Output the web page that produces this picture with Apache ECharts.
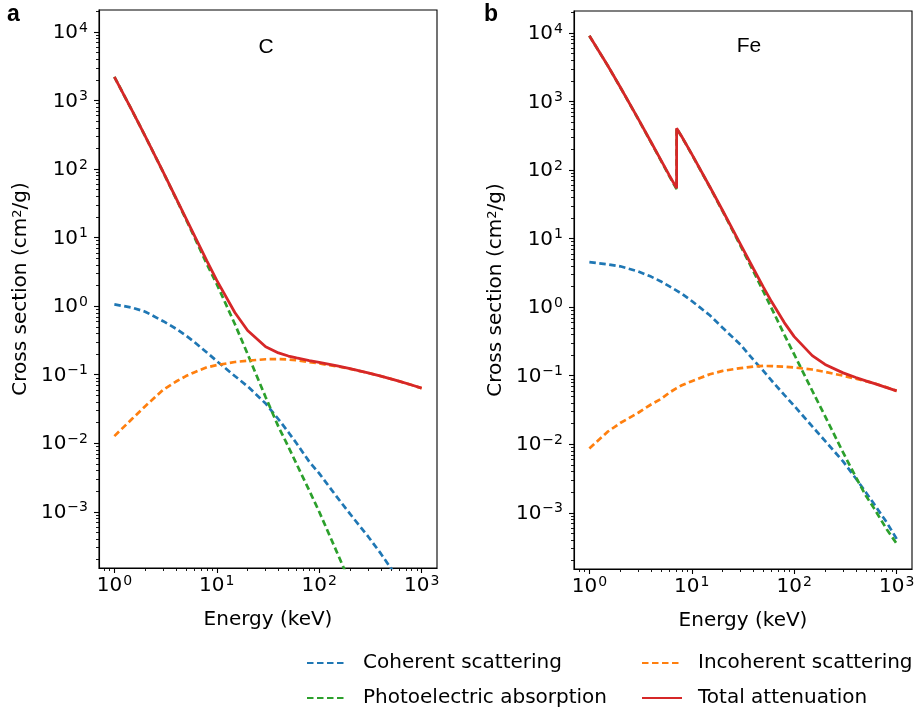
<!DOCTYPE html>
<html>
<head>
<meta charset="utf-8">
<script src="https://cdn.jsdelivr.net/npm/echarts@6/dist/echarts.min.js"></script>
<style>
  html, body { margin: 0; padding: 0; background: #fff; }
  #main { width: 919px; height: 710px; }
</style>
</head>
<body>
<div id="main"></div>
<script>
// energies in keV
var energyC = [1, 1.5, 2, 3, 4, 5, 6, 8, 10, 15, 20, 30, 40, 50, 60, 80, 100, 150, 200, 300, 400, 500, 600, 800, 1000];
// Fe has the K edge at 7.112 keV (two points)
var energyFe = [1, 1.5, 2, 3, 4, 5, 6, 7.112, 7.112, 8, 10, 15, 20, 30, 40, 50, 60, 80, 100, 150, 200, 300, 400, 500, 600, 800, 1000];

// carbon, cm2/g
var cohC = [1.06, 0.95, 0.83, 0.603, 0.468, 0.372, 0.302, 0.211, 0.158, 0.0955, 0.0676, 0.038, 0.0224, 0.0145, 0.0100, 0.00537, 0.00363, 0.00162, 0.00093, 0.000437, 0.000245, 0.000151, 0.000105, 0.0000589, 0.000038];
var incohC = [0.0127, 0.0229, 0.0347, 0.0603, 0.0794, 0.0955, 0.108, 0.128, 0.138, 0.153, 0.160, 0.168, 0.169, 0.167, 0.162, 0.153, 0.1456, 0.132, 0.1216, 0.106, 0.0951, 0.0869, 0.0804, 0.0706, 0.0635];
var photoC = [2210, 699, 301.7, 89.6, 37.1, 18.5, 10.4, 4.1, 2.09, 0.55, 0.20, 0.047, 0.0174, 0.0089, 0.0050, 0.00204, 0.00100, 0.000251, 0.0000933, 0.0000251, 0.00001, 0.000005, 0.0000032, 0.0000014, 0.00000079];
var totalC = [2211, 700.2, 302.6, 90.33, 37.78, 19.12, 10.95, 4.576, 2.373, 0.8071, 0.442, 0.2562, 0.2076, 0.1871, 0.1753, 0.161, 0.1514, 0.1347, 0.1229, 0.1066, 0.09546, 0.08715, 0.08058, 0.07076, 0.06361];

// iron, cm2/g
var cohFe = [4.54, 4.22, 3.94, 3.31, 2.79, 2.37, 2.02, 1.74, 1.74, 1.57, 1.23, 0.76, 0.50, 0.282, 0.17, 0.1175, 0.0851, 0.0525, 0.0363, 0.0182, 0.0112, 0.00562, 0.00316, 0.002, 0.00135, 0.000724, 0.000417];
var incohFe = [0.0087, 0.0151, 0.0204, 0.0288, 0.038, 0.0457, 0.0562, 0.066, 0.066, 0.0724, 0.0832, 0.105, 0.1175, 0.129, 0.136, 0.1387, 0.138, 0.1355, 0.1318, 0.123, 0.1135, 0.100, 0.0902, 0.0832, 0.0776, 0.0676, 0.06];
var photoFe = [9080, 3395, 1622, 554, 253.9, 137.1, 82.8, 52.6, 405.8, 303.9, 169.3, 56.3, 25.08, 7.78, 3.32, 1.69, 0.97, 0.398, 0.204, 0.0603, 0.0257, 0.00759, 0.00331, 0.00178, 0.00117, 0.000575, 0.000355];
var totalFe = [9085, 3399, 1626, 557.6, 256.7, 139.5, 84.84, 54.37, 407.6, 305.6, 170.6, 57.08, 25.68, 8.176, 3.629, 1.958, 1.205, 0.5952, 0.3717, 0.1964, 0.146, 0.1099, 0.094, 0.08414, 0.07704, 0.06699, 0.05995];

// tick decades (log10)
var xDecades = [0, 1, 2, 3];
var yDecades = [-3, -2, -1, 0, 1, 2, 3, 4];

var names = ['Coherent scattering', 'Photoelectric absorption', 'Incoherent scattering', 'Total attenuation'];
var colors = ['#1f77b4', '#2ca02c', '#ff7f0e', '#d62728'];

var FONT = 'DejaVu Sans';
var xMin = -0.15, xMax = 3.15;
var yMin = -3.82, yMax = 4.32;

function toLog(energy, values) {
    var out = [];
    for (var i = 0; i < energy.length; i++) {
        out.push([Math.log10(energy[i]), Math.log10(values[i])]);
    }
    return out;
}

function minorTicks(lo, hi) {
    var t = [];
    for (var d = Math.floor(lo); d <= Math.ceil(hi); d++) {
        for (var k = 2; k <= 9; k++) {
            var v = d + Math.log10(k);
            if (v > lo && v < hi) t.push(v);
        }
    }
    return t;
}

function powLabel(v) {
    var s = v < 0 ? '\u2212' + (-v) : '' + v;
    return '{b|10}{s|' + s + '}';
}

var labelRich = {
    b: { fontFamily: FONT, fontSize: 20, color: '#000', lineHeight: 22, verticalAlign: 'bottom', padding: [3, 0, 0, 0] },
    s: { fontFamily: FONT, fontSize: 14, color: '#000', lineHeight: 15, verticalAlign: 'top', padding: [0, 0, 0, 1] }
};

var grids = [
    { left: 99, top: 10, width: 338, height: 558 },
    { left: 574, top: 11, width: 338, height: 558 }
];

var xAxes = [], yAxes = [];
grids.forEach(function (g, i) {
    // major ticks + labels
    xAxes.push({
        type: 'value', gridIndex: i, position: 'bottom', min: xMin, max: xMax,
        name: 'Energy (keV)', nameLocation: 'middle', nameGap: 42,
        nameTextStyle: { fontFamily: FONT, fontSize: 20, color: '#000' },
        axisLine: { show: true, onZero: false, lineStyle: { color: '#000', width: 1.1 } },
        axisTick: { show: true, length: 5, customValues: xDecades, lineStyle: { color: '#000', width: 1.1 } },
        axisLabel: { customValues: xDecades, margin: 6, formatter: powLabel, rich: labelRich },
        splitLine: { show: false }
    });
    // minor ticks
    xAxes.push({
        type: 'value', gridIndex: i, position: 'bottom', min: xMin, max: xMax,
        axisLine: { show: false, onZero: false },
        axisTick: { show: true, length: 3, customValues: minorTicks(xMin, xMax), lineStyle: { color: '#000', width: 0.9 } },
        axisLabel: { show: false },
        splitLine: { show: false }
    });
    yAxes.push({
        type: 'value', gridIndex: i, position: 'left', min: yMin, max: yMax,
        name: 'Cross section (cm{sup|2}/g)', nameLocation: 'middle', nameGap: 68,
        nameTextStyle: {
            fontFamily: FONT, fontSize: 20, color: '#000',
            rich: { sup: { fontFamily: FONT, fontSize: 13, color: '#000', verticalAlign: 'top', lineHeight: 13 } }
        },
        axisLine: { show: true, onZero: false, lineStyle: { color: '#000', width: 1.1 } },
        axisTick: { show: true, length: 5, customValues: yDecades, lineStyle: { color: '#000', width: 1.1 } },
        axisLabel: { customValues: yDecades, margin: 11, formatter: powLabel, rich: labelRich },
        splitLine: { show: false }
    });
    yAxes.push({
        type: 'value', gridIndex: i, position: 'left', min: yMin, max: yMax,
        axisLine: { show: false, onZero: false },
        axisTick: { show: true, length: 3, customValues: minorTicks(yMin, yMax), lineStyle: { color: '#000', width: 0.9 } },
        axisLabel: { show: false },
        splitLine: { show: false }
    });
});

var panelData = [
    [toLog(energyC, cohC), toLog(energyC, photoC), toLog(energyC, incohC), toLog(energyC, totalC)],
    [toLog(energyFe, cohFe), toLog(energyFe, photoFe), toLog(energyFe, incohFe), toLog(energyFe, totalFe)]
];

var series = [];
panelData.forEach(function (sets, p) {
    sets.forEach(function (d, k) {
        series.push({
            name: names[k],
            type: 'line',
            xAxisIndex: p * 2,
            yAxisIndex: p * 2,
            data: d,
            symbol: 'none',
            showSymbol: false,
            clip: true,
            lineStyle: {
                color: colors[k],
                width: k === 3 ? 2.8 : 2.7,
                type: k === 3 ? 'solid' : [6.5, 3.5]
            },
            itemStyle: { color: colors[k] },
            z: 2 + k
        });
    });
});

var legendCommon = {
    orient: 'vertical',
    padding: 0,
    itemWidth: 40,
    itemHeight: 12,
    itemGap: 13,
    // hide the circle that line series put into the legend icon
    itemStyle: { color: 'rgba(0,0,0,0)', borderColor: 'rgba(0,0,0,0)', borderWidth: 0, opacity: 0 },
    textStyle: { fontFamily: FONT, fontSize: 20, color: '#000', lineHeight: 22, padding: [0, 0, 0, 11] },
    selectedMode: false
};

var myChart = echarts.init(document.getElementById('main'));
myChart.setOption({
    animation: false,
    backgroundColor: '#fff',
    grid: grids.map(function (g) {
        return Object.assign({ show: true, borderColor: '#000', borderWidth: 1.1, backgroundColor: 'transparent' }, g);
    }),
    xAxis: xAxes,
    yAxis: yAxes,
    legend: [
        Object.assign({ left: 306, top: 652, data: [names[0], names[1]] }, legendCommon),
        Object.assign({ left: 641, top: 652, data: [names[2], names[3]] }, legendCommon)
    ],
    graphic: [
        { type: 'text', left: 7, top: 3, style: { text: 'a', fontFamily: 'Liberation Sans', fontWeight: 'bold', fontSize: 23, fill: '#000' } },
        { type: 'text', left: 484, top: 3, style: { text: 'b', fontFamily: 'Liberation Sans', fontWeight: 'bold', fontSize: 23, fill: '#000' } },
        { type: 'text', x: 266, y: 47, style: { text: 'C', fontFamily: 'Liberation Sans', fontSize: 21, fill: '#000', align: 'center', verticalAlign: 'middle' } },
        { type: 'text', x: 749, y: 46, style: { text: 'Fe', fontFamily: 'Liberation Sans', fontSize: 21, fill: '#000', align: 'center', verticalAlign: 'middle' } }
    ],
    series: series
});
</script>
</body>
</html>
